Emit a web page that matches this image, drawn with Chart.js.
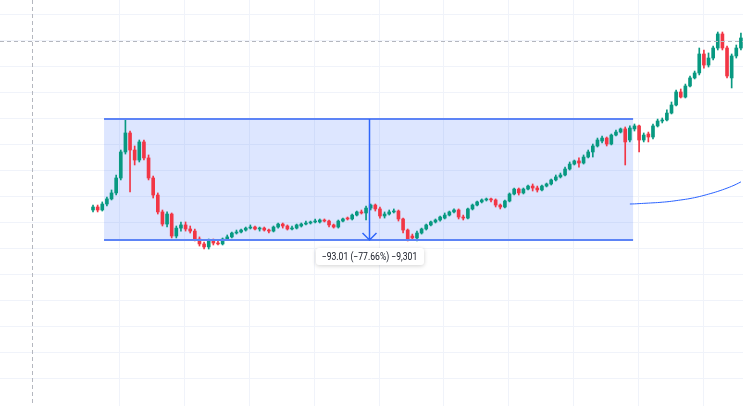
<!DOCTYPE html>
<html>
<head>
<meta charset="utf-8">
<title>Price range</title>
<script src="https://cdn.jsdelivr.net/npm/chart.js@4.4.1/dist/chart.umd.min.js"></script>
<style>
    html, body { margin: 0; padding: 0; background: #ffffff; }
    #wrap { position: relative; width: 743px; height: 406px; }
</style>
</head>
<body>
<div id="wrap"><canvas id="price-chart"></canvas></div>
<script>
// Candle data, one entry per bar (index = bar number)
const opens = [
    49.8, 52.1, 49.8, 54.4, 58.3, 62.9, 74.4, 94.4, 109.0, 95.9,
    88.2, 102.1, 89.8, 74.4, 61.3, 48.3, 39.0, 46.7, 29.8, 35.9,
    38.3, 35.2, 33.6, 27.5, 23.7, 21.4, 26.0, 24.4, 23.7, 27.5,
    29.1, 32.1, 32.9, 34.4, 35.9, 36.7, 35.2, 35.9, 34.4, 33.6,
    36.7, 39.0, 37.5, 35.2, 35.9, 37.5, 39.0, 39.8, 40.6, 40.6,
    42.1, 41.3, 38.3, 36.7, 41.3, 43.6, 42.9, 45.9, 48.3, 47.5,
    51.3, 53.6, 50.6, 45.2, 46.7, 48.3, 49.0, 42.9, 34.4, 29.8,
    28.3, 32.1, 35.2, 38.3, 40.6, 42.1, 43.6, 45.9, 48.3, 49.8,
    44.4, 43.6, 50.6, 53.6, 56.0, 57.5, 58.3, 57.5, 53.6, 52.1,
    56.7, 62.1, 65.9, 62.9, 65.9, 68.2, 66.7, 65.2, 68.2, 69.8,
    72.9, 75.2, 76.7, 81.3, 85.1, 87.5, 85.9, 90.5, 94.4, 99.0,
    102.8, 105.1, 100.5, 107.4, 109.7, 112.1, 103.6, 112.1, 114.4, 103.6,
    108.2, 105.9, 114.4, 118.2, 119.0, 124.3, 130.5, 140.5, 136.6, 145.1,
    151.3, 155.1, 169.7, 161.2, 166.6, 174.3, 185.1, 174.3, 151.3, 168.2,
    174.3
];
const closes = [
    52.1, 49.8, 54.4, 58.3, 62.9, 74.4, 94.4, 109.0, 95.9, 88.2,
    102.1, 89.8, 74.4, 61.3, 48.3, 39.0, 46.7, 29.8, 35.9, 38.3,
    35.2, 33.6, 27.5, 23.7, 21.4, 26.0, 24.4, 23.7, 27.5, 29.1,
    32.1, 32.9, 34.4, 35.9, 36.7, 35.2, 35.9, 34.4, 33.6, 36.7,
    39.0, 37.5, 35.2, 35.9, 38.3, 39.0, 39.8, 40.6, 41.3, 42.1,
    41.3, 38.3, 36.7, 41.3, 42.9, 42.9, 45.9, 48.3, 47.5, 51.3,
    53.6, 50.6, 45.2, 46.7, 48.3, 49.0, 42.9, 34.4, 27.5, 28.3,
    32.1, 35.2, 38.3, 40.6, 42.1, 44.4, 45.9, 48.3, 49.8, 44.4,
    43.6, 50.6, 53.6, 56.0, 57.5, 58.3, 57.5, 53.6, 52.1, 56.7,
    62.1, 65.9, 62.9, 65.9, 68.2, 66.7, 65.2, 68.2, 69.8, 72.9,
    75.2, 76.7, 81.3, 85.1, 87.5, 85.9, 90.5, 94.4, 99.0, 103.6,
    105.1, 100.5, 107.4, 109.7, 112.1, 102.1, 112.8, 114.4, 103.6, 107.4,
    105.9, 114.4, 118.2, 119.0, 124.3, 130.5, 140.5, 136.6, 145.1, 151.3,
    155.1, 169.7, 161.2, 166.6, 174.3, 185.1, 174.3, 152.8, 168.2, 174.3,
    182.0
];
const highs = [
    53.6, 53.6, 56.0, 59.8, 65.2, 76.7, 95.9, 119.76, 110.5, 99.0,
    103.6, 103.6, 92.1, 75.9, 62.9, 49.8, 48.3, 47.5, 37.5, 40.6,
    40.6, 37.5, 35.2, 29.1, 25.2, 27.5, 27.5, 26.0, 28.3, 30.6,
    32.9, 34.4, 35.2, 36.7, 38.3, 37.5, 36.7, 36.7, 35.2, 37.5,
    39.8, 39.8, 38.3, 37.5, 39.0, 39.8, 41.3, 41.3, 42.9, 42.9,
    42.9, 42.1, 39.0, 42.1, 43.6, 44.4, 46.7, 49.0, 49.8, 52.9,
    54.4, 54.4, 52.1, 48.3, 49.8, 50.6, 49.8, 43.6, 35.2, 31.3,
    33.6, 35.9, 39.0, 41.3, 42.9, 45.2, 47.5, 49.0, 50.6, 50.6,
    45.9, 51.3, 54.4, 56.7, 58.3, 59.0, 59.0, 58.3, 54.4, 57.5,
    62.9, 66.7, 66.7, 66.7, 69.0, 69.8, 68.2, 69.0, 70.5, 73.6,
    76.7, 78.2, 82.8, 86.7, 88.2, 89.8, 92.1, 95.9, 100.5, 105.1,
    106.7, 105.9, 108.2, 111.3, 112.8, 113.6, 114.4, 115.9, 115.1, 109.0,
    109.7, 115.9, 119.7, 120.5, 126.7, 132.8, 142.0, 142.8, 146.6, 152.8,
    156.6, 174.3, 172.8, 170.5, 175.8, 186.6, 186.6, 175.8, 169.7, 176.6,
    185.8
];
const lows = [
    48.3, 48.3, 49.0, 52.9, 57.5, 61.3, 72.9, 92.8, 63.6, 84.4,
    86.7, 88.2, 72.9, 59.0, 46.7, 37.5, 36.7, 28.3, 28.3, 33.6,
    33.6, 32.1, 26.0, 22.1, 19.8, 19.8, 22.9, 22.9, 22.9, 26.7,
    28.3, 31.3, 32.1, 33.6, 35.2, 34.4, 33.6, 33.6, 32.1, 32.9,
    35.9, 35.9, 34.4, 34.4, 35.2, 36.7, 38.3, 39.0, 39.8, 39.8,
    40.6, 36.7, 35.9, 35.9, 40.6, 42.1, 42.1, 45.2, 46.7, 42.1,
    49.8, 49.0, 43.6, 43.6, 45.9, 47.5, 41.3, 32.1, 26.0, 26.7,
    26.0, 31.3, 34.4, 37.5, 39.8, 41.3, 42.9, 45.2, 47.5, 42.9,
    42.1, 42.9, 49.8, 52.9, 55.2, 56.7, 56.0, 52.1, 50.6, 51.3,
    56.0, 61.3, 61.3, 62.1, 65.2, 64.4, 63.6, 64.4, 67.5, 69.0,
    72.1, 74.4, 75.9, 80.5, 84.4, 82.8, 85.1, 89.8, 90.5, 98.2,
    101.3, 99.0, 99.8, 106.7, 109.0, 84.4, 102.1, 110.5, 94.4, 102.1,
    102.1, 104.4, 113.6, 116.7, 118.2, 123.6, 129.7, 135.9, 135.9, 144.3,
    150.5, 153.6, 158.9, 159.7, 165.1, 172.8, 172.8, 151.3, 143.6, 166.6,
    172.8
];

// Moving average, starts at bar maStart
const maStart = 116;
const maValues = [
    54.4, 54.5, 54.7, 54.9, 55.1, 55.3, 55.5, 55.8, 56.1, 56.5,
    57.0, 57.5, 58.0, 58.6, 59.3, 60.1, 61.0, 62.0, 63.0, 64.1,
    65.3, 66.6, 68.0, 69.6, 71.4
];

// Grid positions (bar index / price)
const xGridAt = [5.83, 19.83, 33.83, 47.83, 61.83, 75.83, 89.83, 103.83, 117.83, 131.83];
const yGridAt = [-80, -60, -40, -20, 0, 20, 40, 60, 80, 100, 120, 140, 160, 180, 200];

// Price range drawing: bars and prices
const rangeFrom = 2.38;
const rangeTo = 116.7;
const rangeTop = 119.76;
const rangeBottom = 26.75;
const rangeLabel = '\u221293.01 (\u221277.66%) \u22129,301';

// Crosshair position
const crossBar = -13.2;
const crossPrice = 180;

const UP = '#089981';
const DOWN = '#f23645';
const candleColors = opens.map((o, i) => closes[i] >= o ? UP : DOWN);

/**
 * Draws the price range box, arrow, label and crosshair with the chart scales
 */
const rangePlugin = {
    id: 'rangePlugin',
    beforeDatasetsDraw(chart) {
        const { ctx, scales: { x, y } } = chart;
        const left = x.getPixelForValue(rangeFrom);
        const right = x.getPixelForValue(rangeTo);
        const top = y.getPixelForValue(rangeTop);
        const bottom = y.getPixelForValue(rangeBottom);
        ctx.save();
        ctx.fillStyle = 'rgba(41, 98, 255, 0.16)';
        ctx.fillRect(left, top, right - left, bottom - top);
        ctx.restore();
    },
    afterDatasetsDraw(chart) {
        const { ctx, chartArea, scales: { x, y } } = chart;
        const left = x.getPixelForValue(rangeFrom);
        const right = x.getPixelForValue(rangeTo);
        const top = Math.round(y.getPixelForValue(rangeTop));
        const bottom = Math.round(y.getPixelForValue(rangeBottom));
        const mid = Math.round(x.getPixelForValue((rangeFrom + rangeTo) / 2)) + 0.5;

        ctx.save();
        // top and bottom edges
        ctx.strokeStyle = '#5d84f6';
        ctx.lineWidth = 2;
        ctx.beginPath();
        ctx.moveTo(left, top);
        ctx.lineTo(right, top);
        ctx.moveTo(left, bottom);
        ctx.lineTo(right, bottom);
        ctx.stroke();

        // arrow
        ctx.strokeStyle = '#2f66fb';
        ctx.lineWidth = 1.5;
        ctx.beginPath();
        ctx.moveTo(mid, top);
        ctx.lineTo(mid, bottom);
        ctx.moveTo(mid - 7, bottom - 7);
        ctx.lineTo(mid, bottom);
        ctx.lineTo(mid + 7, bottom - 7);
        ctx.stroke();

        // label (narrow text like the reference)
        const squeeze = 0.82;
        ctx.font = '10.5px Roboto, "Open Sans", sans-serif';
        const tw = ctx.measureText(rangeLabel).width * squeeze;
        const w = Math.round(tw + 12);
        const h = 17;
        const bx = Math.round(mid - w / 2);
        const by = bottom + 8;
        ctx.shadowColor = 'rgba(0, 0, 0, 0.18)';
        ctx.shadowBlur = 4;
        ctx.shadowOffsetY = 1;
        ctx.fillStyle = '#ffffff';
        ctx.beginPath();
        ctx.roundRect(bx, by, w, h, 3);
        ctx.fill();
        ctx.shadowColor = 'transparent';
        ctx.fillStyle = '#131722';
        ctx.textAlign = 'center';
        ctx.textBaseline = 'middle';
        ctx.save();
        ctx.translate(mid, by + h / 2 + 0.5);
        ctx.scale(squeeze, 1);
        ctx.fillText(rangeLabel, 0, 0);
        ctx.restore();

        // crosshair
        const cx = Math.round(x.getPixelForValue(crossBar)) + 0.5;
        const cy = Math.round(y.getPixelForValue(crossPrice)) + 0.5;
        ctx.strokeStyle = '#b4b7bf';
        ctx.lineWidth = 1;
        ctx.setLineDash([4, 3]);
        ctx.beginPath();
        ctx.moveTo(cx, chartArea.top);
        ctx.lineTo(cx, chartArea.bottom);
        ctx.moveTo(chartArea.left, cy);
        ctx.lineTo(chartArea.right, cy);
        ctx.stroke();
        ctx.restore();
    }
};

const ctx = document.getElementById('price-chart');

new Chart(ctx, {
    type: 'bar',
    data: {
        datasets: [
            {
                type: 'line',
                data: maValues.map((v, i) => ({ x: maStart + i, y: v })),
                borderColor: '#2962ff',
                borderWidth: 1,
                pointRadius: 0,
                tension: 0.4,
                order: 0
            },
            {
                data: opens.map((o, i) => ({ x: i, y: [o, closes[i]] })),
                backgroundColor: candleColors,
                barThickness: 3,
                minBarLength: 1,
                grouped: false,
                borderWidth: 0,
                order: 1
            },
            {
                data: lows.map((l, i) => ({ x: i, y: [l, highs[i]] })),
                backgroundColor: candleColors,
                barThickness: 1,
                grouped: false,
                borderWidth: 0,
                order: 2
            }
        ]
    },
    options: {
        responsive: true,
        maintainAspectRatio: false,
        animation: false,
        layout: { padding: 0 },
        plugins: {
            legend: { display: false },
            tooltip: { enabled: false }
        },
        scales: {
            x: {
                type: 'linear',
                min: -20.1,
                max: 140.45,
                offset: false,
                border: { display: false },
                grid: { color: '#f0f3fa', drawTicks: false, offset: false },
                ticks: { display: false },
                afterBuildTicks: scale => { scale.ticks = xGridAt.map(v => ({ value: v })); }
            },
            y: {
                type: 'linear',
                min: -100.85,
                max: 211.2,
                border: { display: false },
                grid: { color: '#f0f3fa', drawTicks: false },
                ticks: { display: false },
                afterBuildTicks: scale => { scale.ticks = yGridAt.map(v => ({ value: v })); }
            }
        }
    },
    plugins: [rangePlugin]
});
</script>
</body>
</html>
